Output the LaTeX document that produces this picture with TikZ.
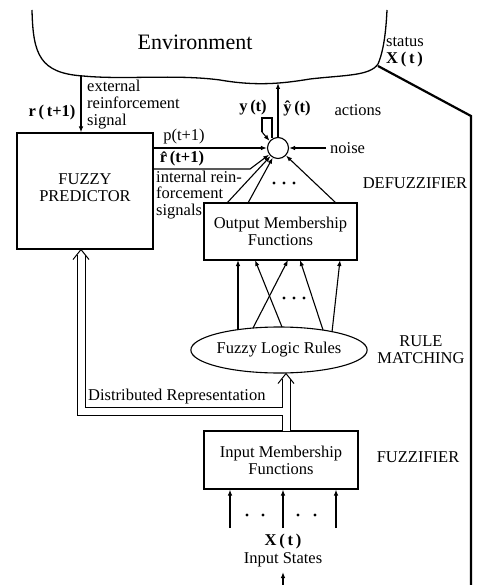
\documentclass[tikz,border=0pt]{standalone}
\usepackage{fontspec}
\setmainfont{Liberation Serif}
\usetikzlibrary{arrows.meta,shapes.geometric}
\begin{document}
\begin{tikzpicture}[x=1pt,y=-1pt,
  font=\fontsize{16.5}{17}\selectfont,
  box/.style={draw,line width=1.1pt,inner sep=0pt,align=center},
  conn/.style={line width=1.1pt,-{Latex[length=6pt,width=4.5pt]}},
  plain/.style={line width=1.1pt},
  dblout/.style={line width=9pt,line cap=butt,line join=miter},
  dblin/.style={white,line width=7pt,line cap=butt,line join=miter},
  chev/.style={line width=1pt,line join=miter},
  lbl/.style={inner sep=0pt},
  dot/.style={circle,fill,inner sep=0pt,minimum size=3.4pt}]
\useasboundingbox (0,0) rectangle (478,585);

% environment
\draw[line width=1.3pt] (32,10) .. controls (33,55) and (40,73) .. (83,76)
  .. controls (125,80) and (175,74) .. (220,80)
  .. controls (255,86) and (280,84) .. (310,79)
  .. controls (345,75) and (370,76) .. (378,64)
  .. controls (384,50) and (386,30) .. (387,10);
\node[lbl,font=\fontsize{22}{24}\selectfont] (env) at (195,42) {Environment};
\coordinate (envR) at (81,76);
\coordinate (envY) at (278,83);
\coordinate (envS) at (378,66);
\coordinate (statC) at (471,116);
\coordinate (statE) at (471,585);
\draw[line width=2.2pt] (envS) -- (statC) -- (statE);
\node[lbl,anchor=west,align=left] (status) at (386,52) {status\\\textbf{X\,(\,t\,)}};

% main blocks
\node[box,minimum width=136pt,minimum height=116pt] (pred) at (85,191) {};
\node[lbl,align=center] (predt) at (85,188) {FUZZY\\PREDICTOR};
\node[draw,circle,line width=1.1pt,minimum size=21pt,inner sep=0pt] (sum) at (278,148) {};
\node[box,minimum width=153pt,minimum height=57pt] (outbox) at (280.5,231.5) {Output Membership\\Functions};
\node[draw,ellipse,line width=1.1pt,minimum width=168pt,minimum height=46pt,inner sep=0pt] (rules) at (279,350) {Fuzzy Logic Rules};
\node[box,minimum width=154pt,minimum height=58pt] (inbox) at (281,460) {Input Membership\\Functions};

% external reinforcement
\draw[conn] (envR) -- (envR |- pred.north);
\node[lbl,anchor=west,align=left] (extl) at (87,105) {external\\reinforcement\\signal};
\node[lbl] (rlbl) at (52,113) {\textbf{r\,(\,t+1)}};

% predictor to sum
\draw[conn] (pred.east |- sum) -- (sum);
\node[lbl] (plbl) at (184,137) {p(t+1)};
\coordinate (rh1) at (pred.east |- 0,169);
\coordinate (rh2) at (250,169);
\draw[conn] (rh1) -- (rh2) -- (sum);
\node[lbl] (rhlbl) at (182,159) {\textbf{\^{r}\,(t+1)}};
\node[lbl,anchor=west,align=left,font=\fontsize{16.5}{16.5}\selectfont] (intl) at (156,195) {internal rein-\\forcement\\signals};

% output to sum
\coordinate (o1) at (227,203);
\coordinate (o2) at (248,203);
\coordinate (o3) at (336,203);
\draw[conn] (o1) -- (sum);
\draw[conn] (o2) -- (sum);
\draw[conn] (o3) -- (sum);
\node[dot] (d1) at (274,183) {};
\node[dot] (d2) at (284,183) {};
\node[dot] (d3) at (294,183) {};

% noise
\coordinate (nz) at (326,148);
\draw[conn] (nz) -- (sum);
\node[lbl,anchor=west] (nlbl) at (330,148) {noise};

% action output
\draw[conn] (sum) -- (envY);
\coordinate (lp1) at (272,118);
\coordinate (lp2) at (262,118);
\coordinate (lp3) at (262,132);
\draw[plain] (sum.north -| lp1) ++(0,1) -- (lp1) -- (lp2) -- (lp3);
\draw[conn] (lp3) -- (sum.140);
\node[lbl] (ylbl) at (253,108) {\textbf{y\,(t)}};
\node[lbl] (yhlbl) at (297,108) {\textbf{\^{y}\,(t)}};
\node[lbl] (act) at (358,110) {actions};
\node[lbl] (defz) at (415,183) {DEFUZZIFIER};

% rules to output
\coordinate (e1) at (238,330);
\coordinate (e2) at (253,328);
\coordinate (e3) at (282,327);
\coordinate (e4) at (323,330);
\coordinate (e5) at (332,332);
\coordinate (t1) at (238,260);
\coordinate (t2) at (288,260);
\coordinate (t3) at (255,260);
\coordinate (t4) at (300,260);
\coordinate (t5) at (340,260);
\draw[conn] (e1) -- (t1);
\draw[conn] (e2) -- (t2);
\draw[conn] (e3) -- (t3);
\draw[conn] (e4) -- (t4);
\draw[conn] (e5) -- (t5);
\node[dot] (d4) at (284,298) {};
\node[dot] (d5) at (294,298) {};
\node[dot] (d6) at (304,298) {};
\node[lbl,align=center] (rm) at (421,350) {RULE\\MATCHING};

% double arrows (drawn as two strokes)
\coordinate (ib) at (286,431);
\coordinate (rtip) at (rules.south -| ib);
\coordinate (rend) at ([shift={(0,5)}]rtip);
\coordinate (jn) at (282.5,411);
\coordinate (jl) at (81,411);
\coordinate (ptip) at (pred.south -| jl);
\coordinate (pend) at ([shift={(0,5)}]ptip);
\draw[dblout] (ib) -- (rend);
\draw[dblin] (ib) -- (rend);
\draw[dblout] (jn) -- (jl) -- (pend);
\draw[dblin] (jn) -- (jl) -- (pend);
\draw[chev] ([shift={(-8,10)}]rtip) -- (rtip) -- ([shift={(8,10)}]rtip);
\draw[chev] ([shift={(-8,10)}]ptip) -- (ptip) -- ([shift={(8,10)}]ptip);
\node[lbl,anchor=west] (drl) at (88,397) {Distributed Representation};

% inputs
\node[lbl] (fzz) at (418,457) {FUZZIFIER};
\coordinate (i1) at (230,528);
\coordinate (i2) at (283,528);
\coordinate (i3) at (336,528);
\draw[conn] (i1) -- (i1 |- inbox.south);
\draw[conn] (i2) -- (i2 |- inbox.south);
\draw[conn] (i3) -- (i3 |- inbox.south);
\node[dot] (d7) at (247,515) {};
\node[dot] (d8) at (263,515) {};
\node[dot] (d9) at (298,515) {};
\node[dot] (d10) at (315,515) {};
\node[lbl] (xt) at (283,542) {\textbf{X\,(\,t\,)}};
\node[lbl] (ist) at (283,560) {Input States};
\coordinate (bot) at (283,587);
\coordinate (bott) at (283,572);
\draw[conn] (bot) -- (bott);
\end{tikzpicture}
\end{document}
